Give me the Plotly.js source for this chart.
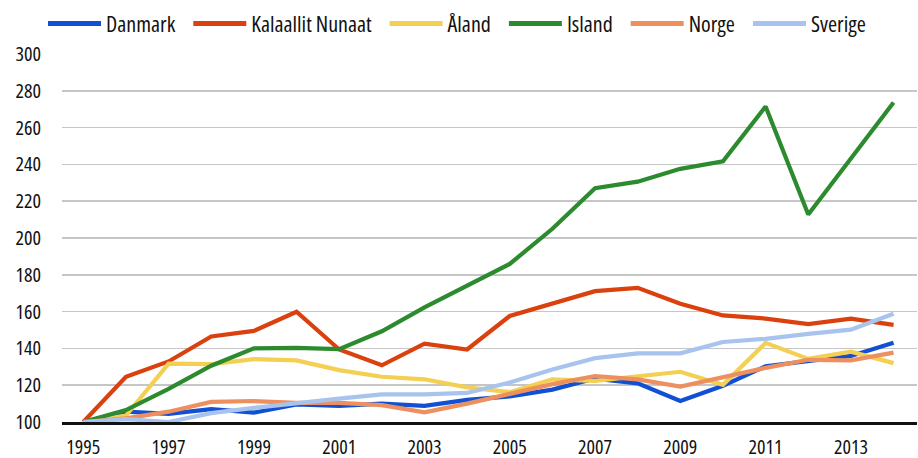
<!DOCTYPE html>
<html>
<head>
<meta charset="utf-8">
<script src="https://cdn.plot.ly/plotly-3.0.1.min.js"></script>
<style>html,body{margin:0;padding:0;background:#fff}#chart{width:918px;height:458px}
#chart .xtick text, #chart .ytick text{font-stretch:87.5% !important;}
#chart .legendtext{font-stretch:80% !important;}
</style>
</head>
<body>
<div id="chart"></div>
<script>
const years = [1995,1996,1997,1998,1999,2000,2001,2002,2003,2004,2005,2006,2007,2008,2009,2010,2011,2012,2013,2014];
const seriesNames = ["Danmark","Kalaallit Nunaat","Åland","Island","Norge","Sverige"];
const danmark   = [100,105.6,104.4,107,105.1,109.5,108.8,110,108.8,112,113.9,117.6,123.6,121,111.4,119.7,130.3,133.3,135.9,143.1];
const kalaallit = [100,124.6,132.9,146.5,149.5,159.9,139.4,130.8,142.6,139.4,157.6,164.6,171.1,172.9,164.3,157.9,156.2,153.2,156.2,152.8];
const aland     = [100,103.5,131.7,131.4,134.2,133.5,128.2,124.6,123.2,118.8,116.2,123.2,122.4,125,127.3,120.2,143,134.3,138.2,132];
const island    = [100,106.5,118,130.6,140,140.3,139.6,149.3,162.3,173.8,185.9,205,227.1,230.6,237.6,241.7,271.5,212.8,243,273.6];
const norge     = [100,102,105.6,110.9,111.4,110.4,110.4,109.2,105.3,110,115.3,120.6,125,123.2,119.2,124.5,129.4,133.8,133.5,137.7];
const sverige   = [100,101.6,100,104.8,107.7,110.4,112.7,115,115,115.8,121.5,128.5,134.7,137.3,137.3,143.5,145.2,147.9,150.2,158.8];
const yTicks = [100,120,140,160,180,200,220,240,260,280,300];
const xTicks = [1995,1997,1999,2001,2003,2005,2007,2009,2011,2013];

const values = [danmark,kalaallit,aland,island,norge,sverige];
const colors = ["#1150d2","#da410f","#f3cf52","#2d8b2f","#ee8f5f","#a8c3ee"];

const traces = seriesNames.map((n,i)=>({
  x: years, y: values[i], name: n, type: "scatter", mode: "lines",
  line: {color: colors[i], width: 4.2, shape: "linear"}
}));

const fontT = {family: "Open Sans", size: 20, color: "#111111"};
const fontL = {family: "Open Sans", size: 22, color: "#111111"};

const layout = {
  width: 918, height: 458,
  margin: {l: 62, r: 1, t: 43, b: 36},
  paper_bgcolor: "#fff", plot_bgcolor: "#fff",
  font: fontT,
  showlegend: true,
  legend: {orientation: "h", x: 0, xanchor: "left", y: 1.03, yanchor: "bottom",
           bgcolor: "rgba(0,0,0,0)", font: fontL, itemwidth: 30, tracegroupgap: 0, itemsizing: "constant"},
  xaxis: {
    range: [1994.5, 2014.55], tickvals: xTicks, ticktext: xTicks.map(String),
    showgrid: false, zeroline: false, showline: true, linecolor: "#111", linewidth: 2.5,
    ticks: "outside", ticklen: 5, tickcolor: "rgba(0,0,0,0)", tickfont: fontT, fixedrange: true
  },
  yaxis: {
    range: [100, 300], tickvals: yTicks, ticktext: yTicks.map(String),
    showgrid: true, gridcolor: "#c6c6c6", gridwidth: 1.6, zeroline: false, showline: false,
    ticks: "outside", ticklen: 16, tickcolor: "rgba(0,0,0,0)", tickfont: fontT, fixedrange: true
  }
};

// legend styling: long sample lines, fixed start position and row height
const LEG = {startX: 48, lineY: 23.5, sampleLen: 53, textGap: 5, itemGap: 18};

function styleLegend(gd){
  const legend = gd.querySelector(".legend");
  if(!legend) return;
  legend.querySelectorAll("[clip-path]").forEach(el => el.removeAttribute("clip-path"));
  const groups = legend.querySelectorAll(".traces");
  let x = 0;
  groups.forEach(g => {
    const t = g.querySelector("text.legendtext");
    const p = g.querySelector(".legendlines path");
    if(p) p.setAttribute("d", "M0,0h" + LEG.sampleLen);
    let w = 0;
    if(t){
      t.setAttribute("x", LEG.sampleLen + LEG.textGap);
      w = t.getComputedTextLength();
    }
    g.setAttribute("transform", "translate(" + x.toFixed(1) + ",0)");
    x += LEG.sampleLen + LEG.textGap + w + LEG.itemGap;
  });
  const svgBox = gd.querySelector(".main-svg").getBoundingClientRect();
  const first = groups[0] && groups[0].querySelector(".legendlines path");
  if(first){
    const b = first.getBoundingClientRect();
    const dx = LEG.startX - (b.left - svgBox.left);
    const dy = LEG.lineY - ((b.top + b.bottom) / 2 - svgBox.top);
    groups.forEach(g => {
      const m = /translate\(([-\d.]+),\s*([-\d.]+)\)/.exec(g.getAttribute("transform"));
      g.setAttribute("transform", "translate(" + (parseFloat(m[1]) + dx).toFixed(1) + "," + (parseFloat(m[2]) + dy).toFixed(1) + ")");
    });
  }
}

Plotly.newPlot("chart", traces, layout, {displayModeBar: false, staticPlot: true})
  .then(gd => styleLegend(gd));
</script>
</body>
</html>
